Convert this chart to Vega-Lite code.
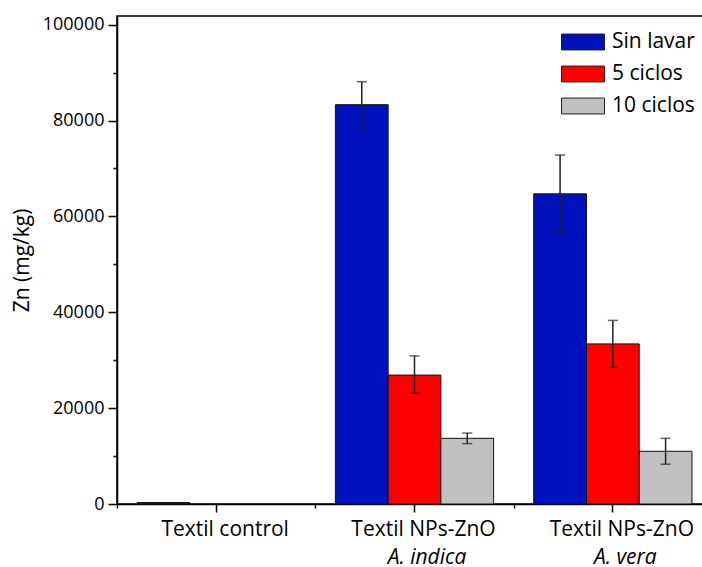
{
  "$schema": "https://vega.github.io/schema/vega-lite/v6.json",
  "autosize": "none",
  "width": 595,
  "height": 488,
  "padding": {"left": 117, "top": 16, "right": 0, "bottom": 63},
  "background": "white",
  "config": {
    "view": {"stroke": "#000", "strokeWidth": 1.5},
    "font": "Open Sans",
    "axis": {"grid": false, "domainColor": "#000", "domainWidth": 1.5, "tickColor": "#000", "tickWidth": 1.5, "labelColor": "#000", "titleColor": "#000"}
  },
  "data": {
    "values": [
      {"grupo": "control", "lavado": "Sin lavar", "zn": 300},
      {"grupo": "indica", "lavado": "Sin lavar", "zn": 83300, "lo": 78500, "hi": 88100},
      {"grupo": "indica", "lavado": "5 ciclos", "zn": 26900, "lo": 23100, "hi": 30900},
      {"grupo": "indica", "lavado": "10 ciclos", "zn": 13700, "lo": 12600, "hi": 14800},
      {"grupo": "vera", "lavado": "Sin lavar", "zn": 64700, "lo": 56600, "hi": 72800},
      {"grupo": "vera", "lavado": "5 ciclos", "zn": 33400, "lo": 28500, "hi": 38300},
      {"grupo": "vera", "lavado": "10 ciclos", "zn": 11000, "lo": 8300, "hi": 13700}
    ]
  },
  "encoding": {
    "xOffset": {"field": "lavado", "type": "nominal", "sort": ["Sin lavar", "5 ciclos", "10 ciclos"], "scale": {"domain": ["Sin lavar", "5 ciclos", "10 ciclos"], "paddingInner": 0, "paddingOuter": 0.38}}
  },
  "resolve": {"axis": {"x": "independent"}},
  "layer": [
    {
      "mark": {"type": "bar", "stroke": "#111", "strokeWidth": 1},
      "encoding": {
        "x": {"field": "grupo", "type": "nominal", "sort": ["control", "indica", "vera"],
          "scale": {"domain": ["control", "indica", "vera"], "paddingInner": 0, "paddingOuter": 0},
          "axis": {"orient": "bottom", "title": null, "labelAngle": 0, "labelFontSize": 21, "tickSize": 8, "labelPadding": 6, "labelOffset": 9,
            "labelExpr": "datum.value == 'control' ? 'Textil control' : 'Textil NPs-ZnO'"}},
        "y": {"field": "zn", "type": "quantitative",
          "scale": {"domain": [0, 101800], "nice": false, "zero": true},
          "axis": {"title": "Zn (mg/kg)", "titleFontSize": 21, "titleFontWeight": "normal", "titlePadding": 10,
            "values": [0, 10000, 20000, 30000, 40000, 50000, 60000, 70000, 80000, 90000, 100000],
            "format": "d", "labelFontSize": 18, "labelPadding": 4,
            "labelExpr": "datum.value % 20000 == 0 ? datum.label : ''",
            "tickSize": {"condition": {"test": "datum.value % 20000 == 0", "value": 9}, "value": 4}}},
        "color": {"field": "lavado", "type": "nominal",
          "scale": {"domain": ["Sin lavar", "5 ciclos", "10 ciclos"], "range": ["#0012BE", "#FF0000", "#C0C0C0"]},
          "legend": {"title": null, "orient": "none", "legendX": 444, "legendY": 4, "padding": 0,
            "symbolType": "M-1,-0.37H1V0.37H-1Z", "symbolSize": 1849, "symbolStrokeColor": "#222", "symbolStrokeWidth": 1,
            "labelFontSize": 21, "labelOffset": 7, "rowPadding": -13.5, "labelColor": "#000", "symbolOpacity": 1}}
      }
    },
    {
      "mark": {"type": "rule", "color": "#222", "strokeWidth": 1.5},
      "encoding": {
        "x": {"field": "grupo", "type": "nominal", "sort": ["control", "indica", "vera"],
          "axis": {"orient": "bottom", "title": null, "labelAngle": 0, "labelFontSize": 21, "labelFontStyle": "italic", "tickSize": 4, "tickBand": "extent", "domain": false, "labelPadding": 38, "labelOffset": 12,
            "labelExpr": "datum.value == 'indica' ? 'A. indica' : (datum.value == 'vera' ? 'A. vera' : '')"}},
        "y": {"field": "lo", "type": "quantitative"},
        "y2": {"field": "hi"}
      }
    },
    {
      "mark": {"type": "tick", "orient": "horizontal", "size": 10, "thickness": 1.5, "color": "#222"},
      "encoding": {
        "x": {"field": "grupo", "type": "nominal", "sort": ["control", "indica", "vera"], "axis": null},
        "y": {"field": "lo", "type": "quantitative"}
      }
    },
    {
      "mark": {"type": "tick", "orient": "horizontal", "size": 10, "thickness": 1.5, "color": "#222"},
      "encoding": {
        "x": {"field": "grupo", "type": "nominal", "sort": ["control", "indica", "vera"], "axis": null},
        "y": {"field": "hi", "type": "quantitative"}
      }
    }
  ]
}
